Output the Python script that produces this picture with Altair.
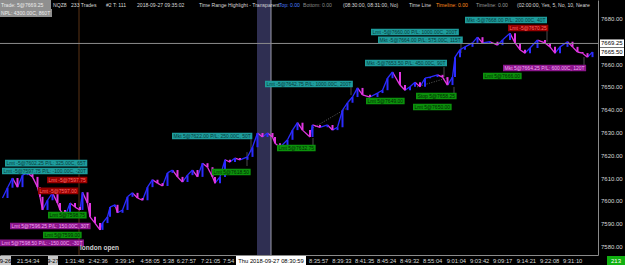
import altair as alt
import pandas as pd

# ---------------- data ----------------
bar_idx = [1,3,5,7,9,11,13,15,16,17,19,21,23,24,26,28,30,32,33,35,36,38,40,41,43,44,46,47,49,51,
           53,55,57,59,61,63,65,67,69,71,73,75,77,79,81,83,85,86,88,90,92,94,96,99,101,103,105,107,109,110,
           112,115,117,119,121,124,125,128,131,133,135,137,139,141,143,145,148,151,153,155,157,160,162,164,166,168,170,172,175,177,
           179,181,182,184,186,189,191,193,196,199,201,204,206,208,210,212,215,218,220,222,224,227,229,231,233,235,237]
close = [7601.5,7606,7610.25,7606.25,7611.5,7612.5,7610.75,7606.25,7602,7596.25,
         7600.5,7603.75,7599.25,7596.25,7593.25,7599.25,7597.5,7596.25,7604,7599.25,
         7593.25,7590.5,7587.5,7590.5,7593.25,7597.5,7598.5,7595,7596.25,7602,
         7603.75,7601.5,7600.5,7606.25,7609.5,7608,7606.75,7612.5,7613.75,7610.75,
         7608.5,7611.5,7613.75,7610.75,7616.75,7615,7610.75,7608,7610.75,7618.25,
         7617.25,7619,7618.25,7619.5,7623.75,7630,7628.25,7630,7628.25,7625.5,
         7623.75,7627,7631.25,7634.5,7631.25,7628.25,7633.5,7632.5,7633.5,7631.25,
         7632.5,7640,7643.25,7645.75,7649.75,7646.75,7645.75,7647.5,7648.75,7654,
         7656.75,7651,7648.75,7650.25,7652.25,7650.25,7654,7654.5,7655.5,7654.5,
         7651,7654.5,7663.25,7666.5,7667.75,7669.5,7672,7669.5,7670,7668.5,
         7670.75,7673.75,7669.5,7666.5,7665,7667.25,7670.75,7669.5,7667.75,7665,
         7667.75,7670,7667.75,7665.5,7665,7663.25,7665.5]

ann_text = [
    "Lmt -5@7602.25 P/L: 325.00C, 65T",
    "Lmt -5@7597.75 P/L: -100.00C, -20T",
    "Lmt -5@7597.75",
    "Lmt -5@7597.00",
    "Lmt 5@7598.75",
    "Lmt 5@7596.25 P/L: 150.00C, 30T",
    "Lmt 5@7599.00",
    "Lmt 5@7598.50 P/L: -150.00C, -30T",
    "Mkt 5@7622.00 P/L: 250.00C, 50T",
    "Lmt 5@7618.50",
    "Lmt 5@7632.75",
    "Lmt -5@7642.75 P/L: 1000.00C, 200T",
    "Lmt 5@7649.00",
    "Mkt -5@7653.50 P/L: 450.00C, 90T",
    "Stop 5@7658.25",
    "Lmt 5@7650.00",
    "Lmt -5@7660.00 P/L: 1000.00C, 200T",
    "Mkt -5@7664.00 P/L: 575.00C, 115T",
    "Mkt -5@7668.00 P/L: 200.00C, 40T",
    "Lmt -5@7670.25",
    "Lmt 5@7666.00",
    "Mkt 5@7664.25 P/L: 600.00C, 120T",
]
ann_kind = ["exit", "exit", "sell", "sell", "buy", "cover", "buy", "cover",
            "exit", "buy", "buy", "exit", "buy", "exit", "buy", "buy",
            "exit", "exit", "exit", "sell", "buy", "cover"]
ann_bar = [2, 0.8, 18.8, 15.2, 19.2, 4, 17.2, 0, 68.8, 84.8, 110.8, 106, 146.4, 146,
           166.4, 165.2, 148.4, 151.2, 186, 203.2, 193.2, 201.2]
ann_price = [7616.8, 7613.3, 7609.4, 7604.6, 7594.0, 7589.2, 7585.3, 7581.8, 7628.7,
             7612.9, 7623.4, 7651.5, 7644.0, 7660.7, 7646.2, 7641.4, 7674.3, 7670.8,
             7679.5, 7676.0, 7655.0, 7658.5]

# leader lines from labels to bars
lead_bar = [100.4, 98.8, 140.4, 177.6, 184.4, 181.6, 233.6, 125.2, 218.8]
lead_p0 = [7627.3, 7621.6, 7650.2, 7658.9, 7669.4, 7650.2, 7663.3, 7627.8, 7674.7]
lead_p1 = [7621.6, 7615.5, 7646.6, 7654.5, 7665.1, 7647.5, 7659.8, 7624.7, 7669.9]

trade_b0 = [125.2, 166.8]
trade_p0 = [7632.2, 7650.2]
trade_b1 = [138.8, 178.8]
trade_p1 = [7640.9, 7654.1]

y_ticks = [7580, 7590, 7600, 7610, 7620, 7630, 7640, 7650, 7660, 7680]
tag_prices = [7669.25, 7665.50]
last_price = 7669.25

xlab_text = ["21:54:34", "1:31:48", "2:42:36", "3:39:14", "4:58:05", "5:38", "6:27:57",
             "7:21:05", "7:54", "8:35:57", "8:39:33", "8:41:35", "8:45:24", "8:49:32",
             "8:55:04", "9:01:04", "9:03:42", "9:09:17", "9:14:21", "9:22:08", "9:31:10"]
xlab_bar = [6.8, 26, 35.4, 46, 56.2, 65.2, 70.7, 80.4, 89.2, 123.6, 132.9, 142, 150.8,
            160, 169.2, 178.7, 188, 197.2, 206.7, 216, 225.2]
xbox_text = ["9-26", "9-27", "Thu 2018-09-27  08:30:59"]
xbox_b0 = [0, 19.2, 94.4]
xbox_b1 = [4.4, 23.2, 122.4]

band_b0, band_b1 = 102.8, 108.4
cross_bar = 108.4
london_bar = 31.6

header = [
    ("Trade: 5@7669.25", "#ececec"), ("NQZ8", "#d8d8d8"), ("233 Trades", "#d8d8d8"),
    ("#2 T: 111", "#d8d8d8"), ("2018-09-27 09:35:02", "#d8d8d8"),
    ("Time Range Highlight - Transparent", "#d8d8d8"), ("Top: 0.00", "#4a7dff"),
    ("Bottom: 0.00", "#8a8a8a"), ("(08:30:00, 08:31:00, No)", "#d8d8d8"),
    ("Time Line", "#d8d8d8"), ("Timeline: 0.00", "#ff8a1c"), ("Timeline: 0.00", "#9a9a9a"),
    ("(02:00:00, Yes, 5, No, 10, Neare", "#d8d8d8"),
]
header2 = "NPL: 4300.00C, 860T"

# ---------------- layout / style ----------------
W, H = 598, 255
X_DOMAIN = [0, 239.2]
Y_DOMAIN = [7576.5, 7688.3]
PXB = W / (X_DOMAIN[1] - X_DOMAIN[0])
PXP = H / (Y_DOMAIN[1] - Y_DOMAIN[0])
FONT = "Liberation Sans"
header_x = [1, 53, 71, 106, 137, 199, 279, 303, 343, 409, 436, 476, 517]
HFS = 5.1

xs = alt.Scale(domain=X_DOMAIN, nice=False, zero=False)
ys = alt.Scale(domain=Y_DOMAIN, nice=False, zero=False)

CW = {'.': .278, ',': .278, ':': .278, ' ': .278, '-': .333, '/': .278, '@': 1.015,
      'm': .833, 'M': .833, 'L': .556, 't': .278, 'k': .5, 'C': .722, 'T': .611,
      'P': .667, 'S': .667, 'o': .556, 'p': .556, 'i': .222, 'l': .222, 'r': .333, 's': .5}


def text_px(s, fs):
    return fs * sum(CW.get(ch, .556) for ch in s)


KIND_BG = {"exit": "#1e9c9c", "sell": "#960000", "buy": "#0c920c", "cover": "#8c168c"}
KIND_FG = {"exit": "#073a3a", "sell": "#ff6a6a", "buy": "#022802", "cover": "#f4a6f4"}
AFS = 5

one = pd.DataFrame({"a": [0]})

seg = pd.DataFrame({
    "b0": bar_idx[:-1], "b1": bar_idx[1:], "p0": close[:-1], "p1": close[1:],
})
seg["dir"] = ["up" if b > a else "down" for a, b in zip(seg.p0, seg.p1)]
dir_color = alt.Color("dir:N", scale=alt.Scale(domain=["up", "down"], range=["#2b2bff", "#e236e2"]),
                      legend=None)

layers = []

# invisible layer that owns both axes (domain lines only)
layers.append(alt.Chart(seg).mark_point(opacity=0).encode(
    x=alt.X("b0:Q", scale=xs, title=None,
            axis=alt.Axis(labels=False, ticks=False, grid=False, title=None, domain=True,
                          domainColor="#8a8a8a", orient="bottom")),
    y=alt.Y("p0:Q", scale=ys, title=None,
            axis=alt.Axis(orient="right", labels=False, ticks=False, grid=False, title=None,
                          domain=True, domainColor="#8a8a8a"))))

layers.append(alt.Chart(one).mark_rect(color="#2f2f52").encode(
    x=alt.X("b0:Q", scale=xs), x2="b1:Q", y=alt.value(0), y2=alt.value(H)
).transform_calculate(b0=str(band_b0), b1=str(band_b1)))

layers.append(alt.Chart(one).mark_rule(color="#5a3214", strokeWidth=1).encode(
    x=alt.X("b:Q", scale=xs), y=alt.value(0), y2=alt.value(H)
).transform_calculate(b=str(london_bar)))

layers.append(alt.Chart(one).mark_rule(color="#9c9caa", strokeWidth=1).encode(
    x=alt.X("b:Q", scale=xs), y=alt.value(0), y2=alt.value(H)
).transform_calculate(b=str(cross_bar)))

layers.append(alt.Chart(pd.DataFrame({"b0": trade_b0, "b1": trade_b1, "p0": trade_p0, "p1": trade_p1})
                        ).mark_rule(color="#777777", strokeWidth=0.8, strokeDash=[1, 1.5]).encode(
    x=alt.X("b0:Q", scale=xs), x2="b1:Q", y=alt.Y("p0:Q", scale=ys), y2="p1:Q"))

layers.append(alt.Chart(pd.DataFrame({"b": lead_bar, "p0": lead_p0, "p1": lead_p1})
                        ).mark_rule(color="#5e5e5e", strokeWidth=0.8).encode(
    x=alt.X("b:Q", scale=xs), y=alt.Y("p0:Q", scale=ys), y2="p1:Q"))

# price bars: thin connectors + vertical bars (open = previous close)
layers.append(alt.Chart(seg).mark_rule(strokeWidth=1.3).encode(
    x=alt.X("b0:Q", scale=xs), x2="b1:Q", y=alt.Y("p0:Q", scale=ys), y2="p1:Q", color=dir_color))
layers.append(alt.Chart(seg).mark_rule(strokeWidth=2).encode(
    x=alt.X("b1:Q", scale=xs), y=alt.Y("p0:Q", scale=ys), y2="p1:Q", color=dir_color))

layers.append(alt.Chart(one).mark_rule(color="#8c8c8c", strokeWidth=1).encode(
    x=alt.value(0), x2=alt.value(W), y=alt.Y("p:Q", scale=ys)
).transform_calculate(p=str(last_price)))

# annotation boxes
ann = pd.DataFrame({"text": ann_text, "kind": ann_kind, "bar": ann_bar, "price": ann_price})
ann["bar2"] = [b + (text_px(t, AFS) + 3) / PXB for b, t in zip(ann.bar, ann.text)]
ann["lo"] = ann.price - 3.3 / PXP
ann["hi"] = ann.price + 3.3 / PXP
ann["bg"] = [KIND_BG[k] for k in ann.kind]
ann["fg"] = [KIND_FG[k] for k in ann.kind]
layers.append(alt.Chart(ann).mark_rect().encode(
    x=alt.X("bar:Q", scale=xs), x2="bar2:Q", y=alt.Y("lo:Q", scale=ys), y2="hi:Q",
    color=alt.Color("bg:N", scale=None)))
layers.append(alt.Chart(ann).mark_text(align="left", baseline="middle", font=FONT,
                                       fontSize=AFS, dx=1.5, dy=0.3).encode(
    x=alt.X("bar:Q", scale=xs), y=alt.Y("price:Q", scale=ys),
    text="text:N", color=alt.Color("fg:N", scale=None)))

layers.append(alt.Chart(one).mark_text(text="london open", align="left", baseline="middle",
                                       font=FONT, fontSize=6.5, fontWeight="bold",
                                       color="#d0d0d0", dx=1).encode(
    x=alt.X("b:Q", scale=xs), y=alt.value(248)).transform_calculate(b=str(london_bar)))

# right axis labels
layers.append(alt.Chart(pd.DataFrame({"p": y_ticks})).mark_text(
    align="left", baseline="middle", font=FONT, fontSize=6, color="#d8d8d8").encode(
    x=alt.value(601), y=alt.Y("p:Q", scale=ys), text=alt.Text("p:Q", format=".2f")))

# right axis price tags
tags = pd.DataFrame({"p": tag_prices})
tags["lo"] = tags.p - 4 / PXP
tags["hi"] = tags.p + 4 / PXP
layers.append(alt.Chart(tags).mark_rect(color="#ffffff").encode(
    x=alt.value(600), x2=alt.value(624), y=alt.Y("lo:Q", scale=ys), y2="hi:Q"))
layers.append(alt.Chart(tags).mark_text(align="left", baseline="middle", font=FONT, fontSize=6,
                                        color="#000000").encode(
    x=alt.value(601), y=alt.Y("p:Q", scale=ys), text=alt.Text("p:Q", format=".2f")))

# x labels
xl = pd.DataFrame({"t": xlab_text, "b": xlab_bar})
layers.append(alt.Chart(xl).mark_text(align="left", baseline="middle", font=FONT, fontSize=5.8,
                                      color="#d8d8d8").encode(
    x=alt.X("b:Q", scale=xs), y=alt.value(260.5), text="t:N"))
xb = pd.DataFrame({"t": xbox_text, "b0": xbox_b0, "b1": xbox_b1,
                   "bg": ["#c8c8c8", "#c8c8c8", "#ffffff"]})
layers.append(alt.Chart(xb).mark_rect().encode(
    x=alt.X("b0:Q", scale=xs), x2="b1:Q", y=alt.value(256), y2=alt.value(265),
    color=alt.Color("bg:N", scale=None)))
layers.append(alt.Chart(xb).mark_text(align="center", baseline="middle", font=FONT, fontSize=5.8,
                                      color="#000000").encode(
    x=alt.X("bm:Q", scale=xs), y=alt.value(260.5), text="t:N"
).transform_calculate(bm="(datum.b0 + datum.b1) / 2"))

layers.append(alt.Chart(one).mark_rect(color="#10b010").encode(
    x=alt.value(607), x2=alt.value(625), y=alt.value(256), y2=alt.value(265)))
layers.append(alt.Chart(one).mark_text(text="213", align="center", baseline="middle", font=FONT,
                                       fontSize=6, color="#ffffff").encode(
    x=alt.value(616), y=alt.value(260.5)))

# header
layers.append(alt.Chart(one).mark_rect(color="#8f8f8f").encode(
    x=alt.value(0), x2=alt.value(51), y=alt.value(0), y2=alt.value(9)))
layers.append(alt.Chart(one).mark_rect(color="#8f8f8f").encode(
    x=alt.value(0), x2=alt.value(52), y=alt.value(9), y2=alt.value(17)))
for (txt, col), px in zip(header, header_x):
    layers.append(alt.Chart(one).mark_text(text=txt, align="left", baseline="middle", font=FONT,
                                           fontSize=HFS, color=col).encode(
        x=alt.value(px), y=alt.value(4.5)))
layers.append(alt.Chart(one).mark_text(text=header2, align="left", baseline="middle", font=FONT,
                                       fontSize=HFS, color="#ececec").encode(
    x=alt.value(1), y=alt.value(13)))

chart = alt.layer(*layers).properties(
    width=W, height=H, background="#000000",
    padding={"left": 0, "top": 0, "right": 27, "bottom": 10},
    autosize=alt.AutoSizeParams(type="none"),
).configure_view(stroke=None)

chart.save("out.html", embed_options={"renderer": "svg", "actions": False})
